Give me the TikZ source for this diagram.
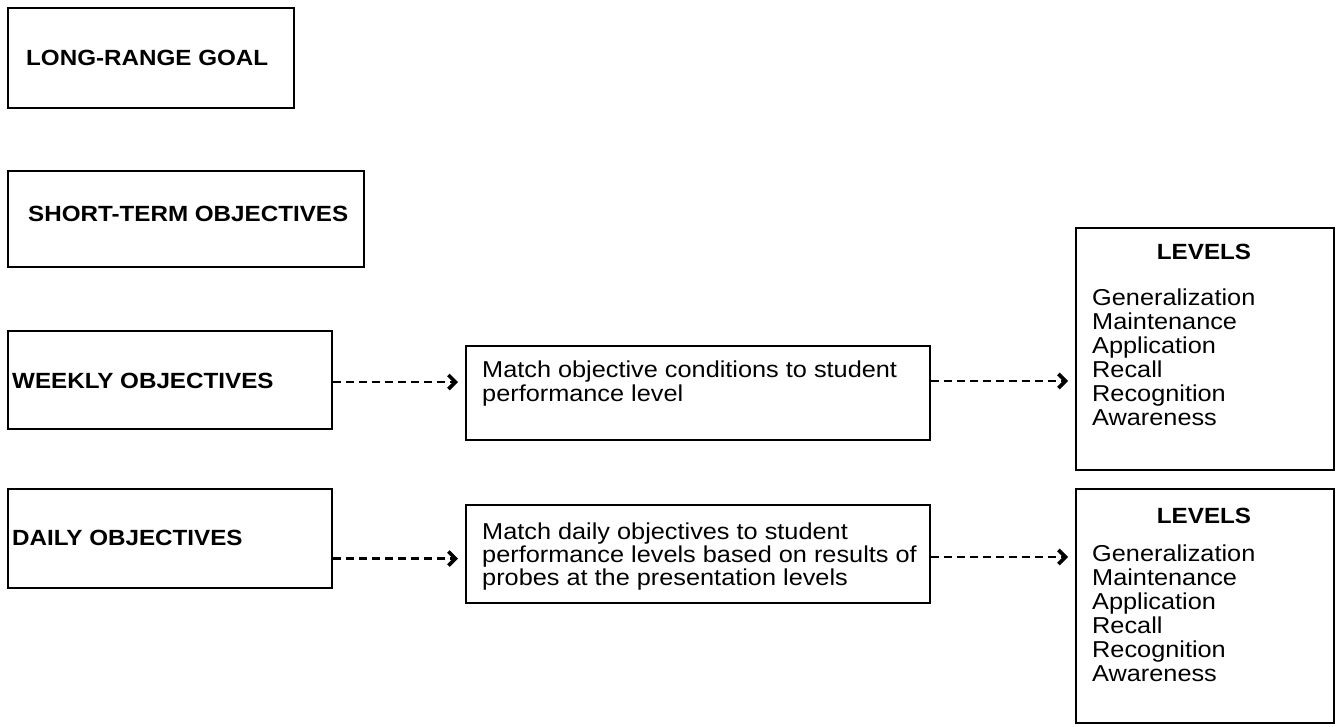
\documentclass[tikz,border=0pt]{standalone}
\usepackage{fontspec}
\setmainfont{Liberation Sans}[FakeStretch=1.1]
\usetikzlibrary{arrows.meta}
\begin{document}
\begin{tikzpicture}[x=1pt,y=-1pt,
  box/.style={draw, line width=2pt, rectangle, inner sep=0pt, anchor=north west},
  bl/.style={anchor=base west, inner sep=0pt, font=\fontsize{22}{24}\selectfont\bfseries},
  tl/.style={anchor=base west, inner sep=0pt, font=\fontsize{23}{24}\selectfont},
  hd/.style={anchor=base, inner sep=0pt, font=\fontsize{22}{24}\selectfont\bfseries},
  dasharrow/.style={line width=2.8pt, dash pattern=on 8pt off 5pt,
    -{Straight Barb[length=7pt,width=14pt,line width=3.6pt]}, shorten >=7pt}
]
\useasboundingbox (0,0) rectangle (1336,726);
% left column
\node[box, minimum width=286pt, minimum height=100pt] (lrg) at (7,7) {};
\node[bl] (lrgt) at (26,65) {LONG-RANGE GOAL};
\node[box, minimum width=356pt, minimum height=96pt] (stp) at (7,170) {};
\node[bl] (stpt) at (28,221) {SHORT-TERM OBJECTIVES};
\node[box, minimum width=324pt, minimum height=98pt] (wk) at (7,330) {};
\node[bl] (wkt) at (12,388) {WEEKLY OBJECTIVES};
\node[box, minimum width=324pt, minimum height=99pt] (dy) at (7,488) {};
\node[bl] (dyt) at (12,545) {DAILY OBJECTIVES};
% middle column
\node[box, minimum width=464pt, minimum height=94pt] (mw) at (465,345) {};
\node[tl] (mw1) at (482,377) {Match objective conditions to student};
\node[tl] (mw2) at (482,401) {performance level};
\node[box, minimum width=464pt, minimum height=98pt] (md) at (465,504) {};
\node[tl] (md1) at (482,539) {Match daily objectives to student};
\node[tl] (md2) at (482,562) {performance levels based on results of};
\node[tl] (md3) at (482,585) {probes at the presentation levels};
% right column
\node[box, minimum width=258pt, minimum height=242pt] (lv1) at (1075,227) {};
\node[hd] (lv1h) at (1204,259) {LEVELS};
\foreach \t [count=\i] in {Generalization,Maintenance,Application,Recall,Recognition,Awareness}
  \node[tl] (lv1i\i) at (1092,{281+24*\i}) {\t};
\node[box, minimum width=258pt, minimum height=234pt] (lv2) at (1075,488) {};
\node[hd] (lv2h) at (1204,523) {LEVELS};
\foreach \t [count=\i] in {Generalization,Maintenance,Application,Recall,Recognition,Awareness}
  \node[tl] (lv2i\i) at (1092,{537+24*\i}) {\t};
% connectors
\draw[dasharrow] ([yshift=-2pt]wk.east) -- ([yshift=-2pt]wk.east -| mw.west);
\draw[dasharrow] ([yshift=12pt]mw.east) -- ([yshift=12pt]mw.east -| lv1.west);
\draw[dasharrow] ([yshift=-20pt]dy.east) -- ([yshift=-20pt]dy.east -| md.west);
\draw[dasharrow] ([yshift=-3pt]md.east) -- ([yshift=-3pt]md.east -| lv2.west);
\end{tikzpicture}
\end{document}
